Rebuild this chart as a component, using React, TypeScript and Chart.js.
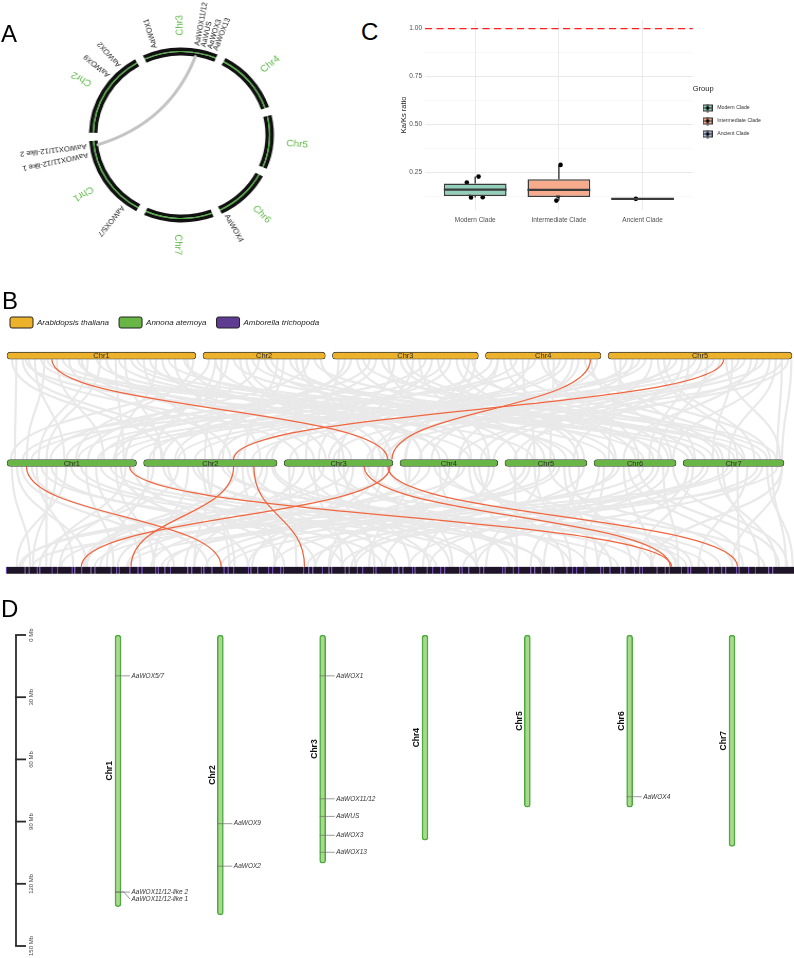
import React, { useEffect, useRef } from 'react';
import { Chart, registerables } from 'chart.js';

Chart.register(...registerables);

const FONT = '"Liberation Sans", Arial, Helvetica, sans-serif';
Chart.defaults.font.family = FONT;

/* ===================== DATA ===================== */

// Annona atemoya karyotype (panels A, B, D)
const annonaChromosomes = ['Chr1', 'Chr2', 'Chr3', 'Chr4', 'Chr5', 'Chr6', 'Chr7'];
const annonaLengthsMb = [131, 135, 110, 99, 83, 83, 102];

// WOX genes on the Annona chromosomes
const woxGeneNames = ['AaWOX5/7', 'AaWOX11/12-like 2', 'AaWOX11/12-like 1', 'AaWOX9', 'AaWOX2', 'AaWOX1', 'AaWOX11/12', 'AaWUS', 'AaWOX3', 'AaWOX13', 'AaWOX4'];
const woxGeneChromosome = [1, 1, 1, 2, 2, 3, 3, 3, 3, 3, 6];
const woxGenePositionMb = [19.7, 124, 124, 91, 111.5, 19.7, 79, 87.5, 96.6, 104.8, 78];

// Panel A: segmental duplication [chr, Mb, chr, Mb]
const circosLinks = [[1, 124, 3, 79]];

// Panel B: species, karyotypes, links
const speciesNames = ['Arabidopsis thaliana', 'Annona atemoya', 'Amborella trichopoda'];
const speciesColors = ['#EDB22B', '#69B546', '#5F3C91'];
const athChromosomes = ['Chr1', 'Chr2', 'Chr3', 'Chr4', 'Chr5'];
const athLengthsMb = [30.4, 19.7, 23.5, 18.6, 29.6];
const amborellaScaffoldsMb = [
  14, 3, 6, 2, 9, 4, 11, 2, 5, 7, 3, 12, 4, 2, 8, 6, 3, 10, 2, 5,
  4, 13, 3, 7, 2, 6, 9, 3, 4, 11, 2, 5, 8, 3, 6, 2, 15, 4, 3, 7,
  5, 2, 10, 3, 6, 4, 8, 2, 12, 5, 3, 7, 2, 9, 4, 6, 3, 11, 2, 5,
  8, 3, 14, 2, 6, 4, 9, 3, 5, 7, 2, 10, 4, 3, 6, 12, 2, 5, 8, 3,
  7, 4, 2, 11, 6, 3, 9, 5, 2, 13, 4, 6, 3, 8, 2, 7, 5, 10, 3, 16,
];
// WOX collinear pairs: [athChr, athMb, annonaChr, annonaMb]
const woxLinksAthAnnona = [[1, 7.2, 3, 104.8], [4, 16.9, 3, 109], [5, 18.6, 2, 91]];
// WOX collinear pairs: [annonaChr, annonaMb, amborellaMb]
const woxLinksAnnonaAmborella = [[1, 19.7, 160], [1, 124, 495], [2, 91, 93], [2, 111.5, 222], [3, 81, 494], [3, 104.8, 544], [3, 107, 56]];
// background collinear blocks: [athChr, athMb, annonaChr, annonaMb]
const bgLinksAthAnnona = [
  [1, 1.5, 1, 8], [1, 2.5, 2, 42], [1, 3.5, 3, 14], [1, 4.5, 1, 58], [1, 5.5, 5, 28], [1, 8, 1, 98], [1, 9, 7, 22], [1, 10, 2, 88], [1, 11.5, 4, 48], [1, 13, 1, 32],
  [1, 14.5, 6, 12], [1, 16, 3, 68], [1, 17.5, 1, 118], [1, 19, 2, 18], [1, 21, 7, 78], [1, 23, 4, 88], [1, 25, 3, 42], [1, 27, 2, 118], [1, 28.5, 5, 62], [1, 30, 1, 70],
  [2, 1, 1, 4], [2, 3, 2, 62], [2, 5, 6, 68], [2, 7, 3, 98], [2, 9, 1, 82], [2, 11, 7, 52], [2, 13, 2, 102], [2, 15, 4, 22], [2, 17, 1, 44], [2, 19, 5, 12],
  [3, 1, 3, 22], [3, 3, 1, 108], [3, 5, 7, 94], [3, 7, 2, 32], [3, 9, 4, 72], [3, 11, 6, 42], [3, 13, 3, 55], [3, 15, 1, 16], [3, 17, 5, 74], [3, 19, 2, 76], [3, 21, 7, 36], [3, 23, 4, 6],
  [4, 1, 2, 6], [4, 3, 6, 22], [4, 5, 1, 72], [4, 7, 3, 88], [4, 9, 7, 62], [4, 11, 5, 46], [4, 13, 2, 124], [4, 15, 4, 32], [4, 17, 6, 78],
  [5, 1, 7, 12], [5, 3, 3, 6], [5, 5, 1, 92], [5, 7, 5, 22], [5, 9, 7, 72], [5, 11, 2, 52], [5, 13, 6, 56], [5, 15, 4, 82], [5, 17, 1, 126], [5, 19, 7, 98],
  [5, 21, 3, 84], [5, 23, 6, 30], [5, 25, 2, 110], [5, 27, 7, 46], [5, 29, 4, 60], [1, 6, 1, 20], [2, 2, 2, 10], [4, 2, 4, 5], [5, 28, 7, 95], [3, 22, 3, 100],
  [1, 0.8, 2, 20], [1, 3, 4, 70], [1, 6.5, 7, 5], [1, 12, 3, 30], [1, 15, 1, 40], [1, 18, 5, 70], [1, 20, 6, 50], [1, 22, 2, 70], [1, 24, 1, 110], [1, 26, 7, 60], [1, 29, 3, 90],
  [2, 2, 4, 40], [2, 4, 1, 120], [2, 6, 3, 60], [2, 8, 7, 30], [2, 10, 5, 50], [2, 12, 2, 80], [2, 14, 6, 20], [2, 16, 3, 108], [2, 18, 7, 85],
  [3, 2, 2, 20], [3, 4, 5, 40], [3, 6, 1, 60], [3, 8, 6, 60], [3, 10, 3, 35], [3, 12, 7, 10], [3, 14, 4, 90], [3, 16, 2, 130], [3, 18, 1, 95], [3, 20, 5, 80], [3, 22.5, 6, 75],
  [4, 2, 3, 45], [4, 4, 7, 40], [4, 6, 5, 30], [4, 8, 1, 25], [4, 10, 6, 45], [4, 12, 2, 95], [4, 14, 4, 60], [4, 16, 7, 88], [4, 18, 3, 105],
  [5, 2, 6, 15], [5, 4, 4, 20], [5, 6, 2, 35], [5, 8, 7, 55], [5, 10, 3, 50], [5, 12, 5, 70], [5, 14, 1, 110], [5, 16, 6, 65], [5, 18, 4, 95], [5, 20, 7, 30],
  [5, 22, 2, 90], [5, 24, 5, 10], [5, 26, 6, 80], [5, 28, 3, 100], [5, 29.5, 7, 100],
];
// background collinear blocks: [annonaChr, annonaMb, amborellaMb]
const bgLinksAnnonaAmborella = [
  [1, 5, 18], [1, 15, 125], [1, 30, 50], [1, 45, 250], [1, 60, 8], [1, 75, 350], [1, 90, 100], [1, 105, 455], [1, 120, 33], [1, 128, 207],
  [2, 5, 75], [2, 20, 290], [2, 35, 25], [2, 50, 398], [2, 65, 166], [2, 80, 506], [2, 95, 58], [2, 110, 315], [2, 125, 133], [2, 132, 432],
  [3, 5, 216], [3, 20, 83], [3, 35, 531], [3, 50, 274], [3, 65, 12], [3, 80, 374], [3, 95, 183], [3, 105, 481],
  [4, 5, 332], [4, 20, 108], [4, 35, 564], [4, 50, 241], [4, 65, 41], [4, 80, 415], [4, 95, 282],
  [5, 5, 498], [5, 20, 149], [5, 35, 357], [5, 50, 66], [5, 65, 465], [5, 80, 257],
  [6, 5, 390], [6, 20, 199], [6, 35, 548], [6, 50, 116], [6, 65, 315], [6, 80, 581],
  [7, 5, 440], [7, 20, 224], [7, 35, 573], [7, 50, 91], [7, 65, 515], [7, 80, 340], [7, 95, 166], [7, 100, 540],
  [1, 40, 30], [1, 110, 110], [2, 60, 170], [2, 100, 200], [3, 30, 250], [3, 60, 300], [4, 40, 350], [4, 70, 380], [5, 30, 420], [5, 60, 440], [6, 30, 480], [6, 70, 500], [7, 40, 560], [7, 90, 580],
  [1, 10, 60], [1, 25, 150], [1, 35, 280], [1, 50, 20], [1, 65, 320], [1, 80, 80], [1, 95, 400], [1, 115, 180], [1, 125, 520],
  [2, 10, 40], [2, 25, 230], [2, 45, 110], [2, 55, 350], [2, 70, 140], [2, 85, 470], [2, 105, 260], [2, 120, 60], [2, 130, 380],
  [3, 10, 140], [3, 25, 330], [3, 40, 70], [3, 55, 420], [3, 70, 200], [3, 85, 500], [3, 100, 240], [3, 108, 10],
  [4, 10, 270], [4, 30, 90], [4, 45, 510], [4, 60, 180], [4, 75, 450], [4, 90, 310],
  [5, 10, 380], [5, 25, 230], [5, 45, 540], [5, 55, 120], [5, 75, 400],
  [6, 10, 430], [6, 25, 160], [6, 45, 575], [6, 60, 260], [6, 75, 350],
  [7, 10, 470], [7, 25, 300], [7, 45, 20], [7, 55, 545], [7, 75, 250], [7, 85, 585], [7, 100, 480],
];

// Panel C: Ka/Ks by clade
const cladeNames = ['Modern Clade', 'Intermediate Clade', 'Ancient Clade'];
const cladeColors = ['#92D0BA', '#F5AB8C', '#AEBBDA'];
const kaksModern = [0.198, 0.177, 0.146, 0.120, 0.229, 0.122];
const kaksModernJitter = [-0.10, -0.09, -0.07, -0.05, 0.04, 0.09];
const kaksIntermediate = [0.290, 0.191, 0.129, 0.104];
const kaksIntermediateJitter = [0.02, 0.02, -0.01, -0.03];
const kaksAncient = [0.113];
const kaksAncientJitter = [-0.08];
const kaksReferenceLine = 1.0;
const kaksMajorTicks = [0.25, 0.5, 0.75, 1.0];
const kaksMinorTicks = [0.125, 0.375, 0.625, 0.875];

// Panel D: ruler
const rulerTicksMb = [0, 30, 60, 90, 120, 150];

/* ===================== HELPERS ===================== */
function fitRange(d0: number, d1: number, p0: number, p1: number, span: number) {
  const k = (p1 - p0) / (d1 - d0);
  const min = d0 - p0 / k;
  return { min, max: min + span / k };
}
function cumulativeOffsets(lengths: number[], gap: number) {
  const offsets: number[] = [];
  let s = 0;
  lengths.forEach((l) => { offsets.push(s); s += l + gap; });
  return { offsets, total: s - gap };
}
function quantile(sorted: number[], p: number) {
  const h = (sorted.length - 1) * p;
  const lo = Math.floor(h), hi = Math.ceil(h);
  return sorted[lo] + (h - lo) * (sorted[hi] - sorted[lo]);
}
function boxStats(values: number[]) {
  const s = [...values].sort((a, b) => a - b);
  const q1 = quantile(s, 0.25), med = quantile(s, 0.5), q3 = quantile(s, 0.75);
  const iqr = q3 - q1;
  const lo = s.find((v) => v >= q1 - 1.5 * iqr) as number;
  const hi = [...s].reverse().find((v) => v <= q3 + 1.5 * iqr) as number;
  return { q1, med, q3, lo, hi };
}
function makeKeyGlyph(color: string) {
  const c = document.createElement('canvas');
  c.width = 10; c.height = 9;
  const g = c.getContext('2d')!;
  g.fillStyle = color; g.fillRect(0.5, 1.5, 9, 6);
  g.strokeStyle = '#333'; g.lineWidth = 1; g.strokeRect(0.5, 1.5, 9, 6);
  g.beginPath(); g.moveTo(5, 0); g.lineTo(5, 9); g.moveTo(0.5, 4.5); g.lineTo(9.5, 4.5); g.stroke();
  g.fillStyle = '#000'; g.beginPath(); g.arc(5, 4.5, 1.8, 0, Math.PI * 2); g.fill();
  return c;
}

/* ===================== PANEL A ===================== */
const circosGapMb = 12.7;
const circosStartDeg = 209.3;

const circosDecor = {
  id: 'circosDecor',
  afterDatasetsDraw(chart: any) {
    const ctx = chart.ctx;
    const outerArcs = chart.getDatasetMeta(0).data;
    const innerArcs = chart.getDatasetMeta(2).data;
    const cx = outerArcs[0].x, cy = outerArcs[0].y;
    const rOut = outerArcs[0].outerRadius;
    const rIn = innerArcs[0].innerRadius;
    const angleAt = (chr: number, mb: number) => {
      const a = outerArcs[(chr - 1) * 2];
      return a.startAngle + (mb / annonaLengthsMb[chr - 1]) * (a.endAngle - a.startAngle);
    };
    ctx.save();
    circosLinks.forEach(([c1, p1, c2, p2]) => {
      const a1 = angleAt(c1, p1), a2 = angleAt(c2, p2);
      const x1 = cx + rIn * Math.cos(a1), y1 = cy + rIn * Math.sin(a1);
      const x2 = cx + rIn * Math.cos(a2), y2 = cy + rIn * Math.sin(a2);
      const mx = (x1 + x2) / 2, my = (y1 + y2) / 2;
      const qx = cx + 0.35 * (mx - cx), qy = cy + 0.35 * (my - cy);
      ctx.beginPath(); ctx.moveTo(x1, y1); ctx.quadraticCurveTo(qx, qy, x2, y2);
      ctx.strokeStyle = '#c4c4c4'; ctx.lineWidth = 3; ctx.lineCap = 'round'; ctx.stroke();
    });
    ctx.font = `9.5px ${FONT}`; ctx.fillStyle = '#5cb946';
    ctx.textAlign = 'left'; ctx.textBaseline = 'middle';
    annonaChromosomes.forEach((name, i) => {
      const a = outerArcs[i * 2];
      const m = (a.startAngle + a.endAngle) / 2;
      const r = rOut + 12;
      ctx.save(); ctx.translate(cx + r * Math.cos(m), cy + r * Math.sin(m)); ctx.rotate(m);
      ctx.fillText(name, 0, 0); ctx.restore();
    });
    ctx.font = `7.3px ${FONT}`; ctx.fillStyle = '#1a1a1a';
    const placed: { chr: number; a: number }[] = [];
    const minSep = (5.5 * Math.PI) / 180;
    woxGeneNames.forEach((name, i) => {
      const chr = woxGeneChromosome[i];
      let a = angleAt(chr, woxGenePositionMb[i]);
      placed.forEach((p) => { if (p.chr === chr && Math.abs(p.a - a) < minSep * 0.3) a = p.a - minSep; });
      placed.push({ chr, a });
      const r = rOut + 3;
      ctx.save(); ctx.translate(cx + r * Math.cos(a), cy + r * Math.sin(a)); ctx.rotate(a);
      ctx.fillText(name, 0, 0); ctx.restore();
    });
    ctx.restore();
  },
};

function CircosPanel() {
  const ref = useRef<HTMLCanvasElement>(null);
  useEffect(() => {
    const values: number[] = [];
    const labels: string[] = [];
    annonaLengthsMb.forEach((len, i) => {
      values.push(len); labels.push(annonaChromosomes[i]);
      values.push(circosGapMb); labels.push('');
    });
    const seg = (c: string) => values.map((_, i) => (i % 2 === 0 ? c : 'rgba(0,0,0,0)'));
    const ds = (c: string, w: number) => ({ data: values, backgroundColor: seg(c), borderWidth: 0, hoverBorderWidth: 0, hoverOffset: 0, weight: w });
    const chart = new Chart(ref.current!, {
      type: 'doughnut',
      data: { labels, datasets: [ds('#111111', 3.4), ds('#46b535', 1.2), ds('#111111', 3.4)] },
      options: {
        responsive: false, animation: false, events: [],
        rotation: circosStartDeg, cutout: '90.9%',
        layout: { padding: { left: 77.5, right: 77.5, top: 47.5, bottom: 52.5 } },
        plugins: { legend: { display: false }, tooltip: { enabled: false } },
      } as any,
      plugins: [circosDecor],
    });
    return () => chart.destroy();
  }, []);
  return (
    <div style={{ position: 'absolute', left: 7.1, top: 0, width: 330, height: 275, transform: 'scaleX(1.057)', transformOrigin: '0 0' }}>
      <canvas ref={ref} width={330} height={275} />
    </div>
  );
}

/* ===================== PANEL B ===================== */
const athGapMb = 1.13;
const annonaGapMb = 7.1;

function SyntenyPanel() {
  const ref = useRef<HTMLCanvasElement>(null);
  useEffect(() => {
    const ath = cumulativeOffsets(athLengthsMb, athGapMb);
    const ann = cumulativeOffsets(annonaLengthsMb, annonaGapMb);
    const amb = cumulativeOffsets(amborellaScaffoldsMb, 0);
    const xA = fitRange(0, ath.total, 7, 792, 794);
    const xN = fitRange(0, ann.total, 7, 784, 794);
    const xM = fitRange(0, amb.total, 6, 794, 794);
    const yR = fitRange(0, 2, 17.7, 232.3, 252);
    const half = 3.5;

    const decor = {
      id: 'syntenyDecor',
      beforeDatasetsDraw(chart: any) {
        const ctx = chart.ctx;
        const s = chart.scales;
        const yTop = s.y.getPixelForValue(0) + half;
        const yMidA = s.y.getPixelForValue(1) - half;
        const yMidB = s.y.getPixelForValue(1) + half;
        const yBot = s.y.getPixelForValue(2) - half;
        const pA = (c: number, mb: number) => s.xA.getPixelForValue(ath.offsets[c - 1] + mb);
        const pN = (c: number, mb: number) => s.xN.getPixelForValue(ann.offsets[c - 1] + mb);
        const pM = (mb: number) => s.xM.getPixelForValue(mb);
        const curve = (x1: number, y1: number, x2: number, y2: number) => {
          const ym = (y1 + y2) / 2;
          ctx.beginPath(); ctx.moveTo(x1, y1); ctx.bezierCurveTo(x1, ym, x2, ym, x2, y2); ctx.stroke();
        };
        ctx.save();
        ctx.strokeStyle = '#e9e9e9'; ctx.lineWidth = 2.2;
        bgLinksAthAnnona.forEach(([a, b, c, d]) => curve(pA(a, b), yTop, pN(c, d), yMidA));
        bgLinksAnnonaAmborella.forEach(([c, d, m]) => curve(pN(c, d), yMidB, pM(m), yBot));
        ctx.strokeStyle = '#F0663E'; ctx.lineWidth = 1.3;
        woxLinksAthAnnona.forEach(([a, b, c, d]) => curve(pA(a, b), yTop, pN(c, d), yMidA));
        woxLinksAnnonaAmborella.forEach(([c, d, m]) => curve(pN(c, d), yMidB, pM(m), yBot));
        ctx.restore();
      },
      afterDatasetsDraw(chart: any) {
        const ctx = chart.ctx;
        ctx.save();
        ctx.font = `7.5px ${FONT}`; ctx.fillStyle = '#2b2b2b';
        ctx.textAlign = 'center'; ctx.textBaseline = 'middle';
        const sets: [number, string[]][] = [[0, athChromosomes], [1, annonaChromosomes]];
        sets.forEach(([di, names]) => {
          chart.getDatasetMeta(di).data.forEach((el: any, i: number) => {
            const p = el.getCenterPoint();
            ctx.fillText(names[i], p.x, p.y + 0.5);
          });
        });
        ctx.restore();
      },
    };

    const chromBar = { borderColor: '#3a3a3a', borderWidth: 0.8, borderRadius: 4, borderSkipped: false, barThickness: 7, grouped: false };
    const chart = new Chart(ref.current!, {
      type: 'bar',
      data: {
        datasets: [
          { ...chromBar, label: speciesNames[0], xAxisID: 'xA', yAxisID: 'y', backgroundColor: speciesColors[0], data: athLengthsMb.map((l, i) => ({ x: [ath.offsets[i], ath.offsets[i] + l], y: 0 })) },
          { ...chromBar, label: speciesNames[1], xAxisID: 'xN', yAxisID: 'y', backgroundColor: speciesColors[1], data: annonaLengthsMb.map((l, i) => ({ x: [ann.offsets[i], ann.offsets[i] + l], y: 1 })) },
          {
            label: speciesNames[2], xAxisID: 'xM', yAxisID: 'y', grouped: false, barThickness: 7,
            backgroundColor: '#1d1427', borderColor: '#7049b0', borderWidth: { left: 1.3, right: 0, top: 0, bottom: 0 }, borderSkipped: false,
            data: amborellaScaffoldsMb.map((l, i) => ({ x: [amb.offsets[i], amb.offsets[i] + l], y: 2 })),
          },
        ],
      } as any,
      options: {
        indexAxis: 'y', responsive: false, animation: false, events: [],
        layout: { padding: 0 },
        scales: {
          y: { type: 'linear', reverse: true, min: yR.min, max: yR.max, display: false, offset: false, grid: { offset: false } },
          xA: { type: 'linear', axis: 'x', min: xA.min, max: xA.max, display: false },
          xN: { type: 'linear', axis: 'x', min: xN.min, max: xN.max, display: false },
          xM: { type: 'linear', axis: 'x', min: xM.min, max: xM.max, display: false },
        },
        plugins: {
          tooltip: { enabled: false },
          legend: {
            display: true, position: 'top', align: 'start',
            labels: {
              boxWidth: 23, boxHeight: 11, padding: 10, useBorderRadius: true, borderRadius: 2,
              color: '#222', font: { size: 8, style: 'italic', family: FONT },
              generateLabels: () => speciesNames.map((t, i) => ({
                text: t, fillStyle: speciesColors[i], strokeStyle: '#222', lineWidth: 1, hidden: false, borderRadius: 2, fontColor: '#222', datasetIndex: i,
              })),
            },
          },
        },
      } as any,
      plugins: [decor],
    });
    return () => chart.destroy();
  }, []);
  return <canvas ref={ref} width={794} height={283} style={{ position: 'absolute', left: 0, top: 307 }} />;
}

/* ===================== PANEL C ===================== */
function KaKsPanel() {
  const ref = useRef<HTMLCanvasElement>(null);
  useEffect(() => {
    const groups = [kaksModern, kaksIntermediate, kaksAncient];
    const jitters = [kaksModernJitter, kaksIntermediateJitter, kaksAncientJitter];
    const stats = groups.map(boxStats);
    const points: { x: number; y: number }[] = [];
    groups.forEach((g, i) => g.forEach((v, j) => points.push({ x: i + 1 + jitters[i][j], y: v })));
    const keyGlyphs = cladeColors.map(makeKeyGlyph);
    const dark = '#3b3b3b';

    const boxDecor = {
      id: 'boxDecor',
      beforeDatasetsDraw(chart: any) {
        const ctx = chart.ctx; const { x, y } = chart.scales; const area = chart.chartArea;
        ctx.save();
        const ry = y.getPixelForValue(kaksReferenceLine);
        ctx.strokeStyle = '#ff1f1f'; ctx.lineWidth = 1.4; ctx.setLineDash([7, 4.5]);
        ctx.beginPath(); ctx.moveTo(area.left, ry); ctx.lineTo(area.right, ry); ctx.stroke();
        ctx.setLineDash([]);
        ctx.strokeStyle = dark; ctx.lineWidth = 1.4;
        stats.forEach((s, i) => {
          const px = x.getPixelForValue(i + 1);
          ctx.beginPath();
          ctx.moveTo(px, y.getPixelForValue(s.hi)); ctx.lineTo(px, y.getPixelForValue(s.q3));
          ctx.moveTo(px, y.getPixelForValue(s.q1)); ctx.lineTo(px, y.getPixelForValue(s.lo));
          ctx.stroke();
        });
        ctx.restore();
      },
      afterDatasetDraw(chart: any, args: any) {
        if (args.index !== 0) return;
        const ctx = chart.ctx; const { y } = chart.scales;
        ctx.save(); ctx.strokeStyle = dark; ctx.lineWidth = 2.2;
        chart.getDatasetMeta(0).data.forEach((el: any, i: number) => {
          const py = y.getPixelForValue(stats[i].med);
          ctx.beginPath(); ctx.moveTo(el.x - el.width / 2, py); ctx.lineTo(el.x + el.width / 2, py); ctx.stroke();
        });
        ctx.restore();
      },
    };

    const isMajor = (v: number) => Math.abs(v * 4 - Math.round(v * 4)) < 1e-6;
    const chart = new Chart(ref.current!, {
      type: 'bar',
      data: {
        datasets: [
          {
            type: 'bar', data: stats.map((s, i) => ({ x: i + 1, y: [s.q1, s.q3] })),
            backgroundColor: cladeColors, borderColor: dark, borderWidth: 1.5, borderSkipped: false,
            barPercentage: 0.75, categoryPercentage: 1, grouped: false,
          },
          { type: 'scatter', data: points, pointRadius: 2.3, pointBackgroundColor: '#000', pointBorderWidth: 0 },
        ],
      } as any,
      options: {
        responsive: false, animation: false, events: [],
        layout: { padding: { top: 15, right: 23, left: 0, bottom: 0 } },
        scales: {
          x: {
            type: 'linear', min: 0.4, max: 3.6, offset: false,
            afterBuildTicks: (s: any) => { s.ticks = cladeNames.map((_, i) => ({ value: i + 1 })); },
            afterFit: (s: any) => { s.height = 25; },
            ticks: { autoSkip: false, maxRotation: 0, padding: 6, color: '#4d4d4d', font: { size: 6.5 }, callback: (v: any) => cladeNames[Math.round(v) - 1] ?? '' },
            grid: { color: '#e8e8e8', lineWidth: 0.9, drawTicks: false, offset: false },
            border: { display: false },
          },
          y: {
            type: 'linear', min: 0.055, max: 1.045,
            afterBuildTicks: (s: any) => { s.ticks = [...kaksMinorTicks, ...kaksMajorTicks].sort((a, b) => a - b).map((v) => ({ value: v })); },
            afterFit: (s: any) => { s.width = 45; },
            ticks: { autoSkip: false, padding: 3, color: '#4d4d4d', font: { size: 6.5 }, callback: (v: any) => (isMajor(v) ? Number(v).toFixed(2) : '') },
            grid: { drawTicks: false, color: (c: any) => (c.tick && isMajor(c.tick.value) ? '#e6e6e6' : '#f3f3f3'), lineWidth: (c: any) => (c.tick && isMajor(c.tick.value) ? 0.9 : 0.6) },
            border: { display: false },
            title: { display: true, text: 'Ka/Ks ratio', color: '#222', font: { size: 7.5 }, padding: { top: 19, bottom: 0 } },
          },
        },
        plugins: {
          tooltip: { enabled: false },
          legend: {
            display: true, position: 'right', align: 'center', fullSize: false,
            title: { display: true, text: 'Group', position: 'start', color: '#1a1a1a', font: { size: 7.5 }, padding: { top: 0, bottom: 3 } },
            labels: {
              usePointStyle: true, pointStyleWidth: 14, padding: 7.8, color: '#333', font: { size: 5.2 },
              generateLabels: () => cladeNames.map((t, i) => ({
                text: t, pointStyle: keyGlyphs[i], fillStyle: cladeColors[i], strokeStyle: '#333', lineWidth: 1, hidden: false, fontColor: '#333', datasetIndex: 0,
              })),
            },
          },
        },
      } as any,
      plugins: [boxDecor],
    });
    return () => chart.destroy();
  }, []);
  return <canvas ref={ref} width={414} height={230} style={{ position: 'absolute', left: 380, top: 5 }} />;
}

/* ===================== PANEL D ===================== */
function IdeogramPanel() {
  const ref = useRef<HTMLCanvasElement>(null);
  useEffect(() => {
    const xR = fitRange(1, 7, 118, 732, 794);
    const yR = fitRange(0, 150, 35, 346, 358);
    const decor = {
      id: 'ideogramDecor',
      afterDatasetsDraw(chart: any) {
        const ctx = chart.ctx; const { x, y } = chart.scales; const area = chart.chartArea;
        ctx.save();
        const rx = area.left + 16;
        ctx.strokeStyle = '#2a2a2a'; ctx.lineWidth = 1.8;
        ctx.beginPath();
        ctx.moveTo(rx, y.getPixelForValue(rulerTicksMb[0]));
        ctx.lineTo(rx, y.getPixelForValue(rulerTicksMb[rulerTicksMb.length - 1]));
        ctx.stroke();
        ctx.font = `6px ${FONT}`; ctx.fillStyle = '#444'; ctx.textAlign = 'center'; ctx.textBaseline = 'middle';
        rulerTicksMb.forEach((v) => {
          const py = y.getPixelForValue(v);
          ctx.beginPath(); ctx.moveTo(rx - 0.9, py); ctx.lineTo(rx + 10, py); ctx.stroke();
          ctx.save(); ctx.translate(rx + 15.5, py); ctx.rotate(-Math.PI / 2); ctx.fillText(`${v} Mb`, 0, 0); ctx.restore();
        });
        ctx.font = `bold 8.5px ${FONT}`; ctx.fillStyle = '#111';
        chart.getDatasetMeta(0).data.forEach((el: any, i: number) => {
          const p = el.getCenterPoint();
          ctx.save(); ctx.translate(p.x - 8, p.y); ctx.rotate(-Math.PI / 2); ctx.fillText(annonaChromosomes[i], 0, 0); ctx.restore();
        });
        ctx.font = `italic 6.5px ${FONT}`; ctx.textAlign = 'left';
        const lastY: Record<number, number> = {};
        woxGeneNames.forEach((name, i) => {
          const c = woxGeneChromosome[i];
          const px = x.getPixelForValue(c);
          const gy = y.getPixelForValue(woxGenePositionMb[i]);
          let ly = gy;
          if (lastY[c] !== undefined && ly < lastY[c] + 7) ly = lastY[c] + 7;
          lastY[c] = ly;
          ctx.strokeStyle = '#6e6e6e'; ctx.lineWidth = 0.7;
          ctx.beginPath(); ctx.moveTo(px - 3, gy); ctx.lineTo(px + 6, gy); ctx.lineTo(px + 12, ly); ctx.stroke();
          ctx.fillStyle = '#333'; ctx.fillText(name, px + 13.5, ly);
        });
        ctx.restore();
      },
    };
    const chart = new Chart(ref.current!, {
      type: 'bar',
      data: {
        datasets: [{
          data: annonaLengthsMb.map((l, i) => ({ x: i + 1, y: [0, l] })),
          backgroundColor: '#a8d98c', borderColor: '#4caa3e', borderWidth: 1.5, borderRadius: 3, borderSkipped: false, barThickness: 6,
        }],
      } as any,
      options: {
        responsive: false, animation: false, events: [],
        layout: { padding: 0 },
        scales: {
          x: { type: 'linear', min: xR.min, max: xR.max, display: false, offset: false, grid: { offset: false } },
          y: { type: 'linear', reverse: true, min: yR.min, max: yR.max, display: false },
        },
        plugins: { legend: { display: false }, tooltip: { enabled: false } },
      } as any,
      plugins: [decor],
    });
    return () => chart.destroy();
  }, []);
  return <canvas ref={ref} width={794} height={358} style={{ position: 'absolute', left: 0, top: 600 }} />;
}

/* ===================== APP ===================== */
const letterStyle = (left: number, top: number): React.CSSProperties => ({
  position: 'absolute', left, top, fontSize: 24, lineHeight: '24px', fontFamily: FONT, color: '#000',
});

export default function App() {
  return (
    <div style={{ position: 'absolute', left: 0, top: 0, width: 794, height: 958, background: '#fff', overflow: 'hidden' }}>
      <CircosPanel />
      <KaKsPanel />
      <SyntenyPanel />
      <IdeogramPanel />
      <div style={letterStyle(1, 22)}>A</div>
      <div style={letterStyle(361, 20)}>C</div>
      <div style={letterStyle(2, 289)}>B</div>
      <div style={letterStyle(1, 597)}>D</div>
    </div>
  );
}
